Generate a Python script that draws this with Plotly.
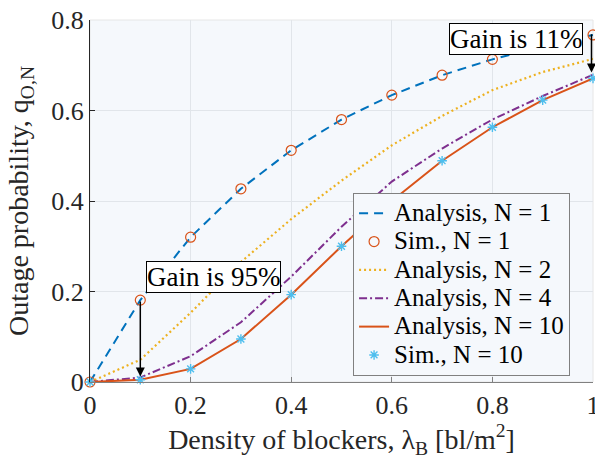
import plotly.graph_objects as go

# Density of blockers (bl/m^2)
lam = [0.0, 0.1, 0.2, 0.3, 0.4, 0.5, 0.6, 0.7, 0.8, 0.9, 1.0]

# Outage probability per number of links N
ana_n1 = [0.0, 0.181, 0.320, 0.427, 0.512, 0.580, 0.634, 0.678, 0.713, 0.742, 0.767]
sim_n1 = [0.0, 0.181, 0.320, 0.427, 0.512, 0.580, 0.634, 0.678, 0.713, 0.742, 0.767]
ana_n2 = [0.0, 0.049, 0.153, 0.265, 0.360, 0.445, 0.523, 0.588, 0.645, 0.685, 0.714]
ana_n4 = [0.0, 0.010, 0.057, 0.132, 0.233, 0.343, 0.443, 0.516, 0.580, 0.632, 0.679]
ana_n10 = [0.0, 0.005, 0.029, 0.095, 0.193, 0.300, 0.400, 0.489, 0.563, 0.623, 0.671]
sim_n10 = [0.0, 0.005, 0.029, 0.095, 0.193, 0.300, 0.400, 0.489, 0.563, 0.623, 0.671]

FONT = "Liberation Serif"
BG = "#f5f8fc"


def entry(label):
    # legend labels are set a bit larger than the row spacing font
    return f"<span style='font-size:25px'>{label}</span>"


fig = go.Figure()
fig.add_trace(go.Scatter(x=lam, y=ana_n1, mode="lines", name=entry("Analysis, N = 1"),
                         line=dict(color="#0072BD", width=2, dash="9px,6px")))
fig.add_trace(go.Scatter(x=lam, y=sim_n1, mode="markers", name=entry("Sim., N = 1"),
                         marker=dict(symbol="circle-open", size=10, color="#D95319",
                                     line=dict(width=1.2, color="#D95319")),
                         cliponaxis=False))
fig.add_trace(go.Scatter(x=lam, y=ana_n2, mode="lines", name=entry("Analysis, N = 2"),
                         line=dict(color="#EDB120", width=2.2, dash="2px,3px")))
fig.add_trace(go.Scatter(x=lam, y=ana_n4, mode="lines", name=entry("Analysis, N = 4"),
                         line=dict(color="#7E2F8E", width=2, dash="8px,3px,2px,3px")))
fig.add_trace(go.Scatter(x=lam, y=ana_n10, mode="lines", name=entry("Analysis, N = 10"),
                         line=dict(color="#D95319", width=2)))
fig.add_trace(go.Scatter(x=lam, y=sim_n10, mode="markers", name=entry("Sim., N = 10"),
                         marker=dict(symbol="asterisk-open", size=8, color="#4DBEEE",
                                     line=dict(width=1.4, color="#4DBEEE")),
                         cliponaxis=False))

# Gain annotations: text boxes and the arrows between curves
fig.add_annotation(x=0.2465, y=0.233, xref="x", yref="y", text="Gain is 95%",
                   showarrow=False, bgcolor="white", bordercolor="black",
                   borderwidth=1, borderpad=0, font=dict(family=FONT, size=27, color="black"))
fig.add_annotation(x=0.1, y=0.012, ax=0.1, ay=0.181, xref="x", yref="y",
                   axref="x", ayref="y", text="", showarrow=True, arrowhead=2,
                   arrowsize=1.2, arrowwidth=1.5, arrowcolor="black")
fig.add_annotation(x=0.847, y=0.758, xref="x", yref="y", text="Gain is 11%",
                   showarrow=False, bgcolor="white", bordercolor="black",
                   borderwidth=1, borderpad=0, font=dict(family=FONT, size=27, color="black"))
fig.add_annotation(x=0.997, y=0.684, ax=0.997, ay=0.772, xref="x", yref="y",
                   axref="x", ayref="y", text="", showarrow=True, arrowhead=2,
                   arrowsize=1.2, arrowwidth=1.5, arrowcolor="black")

# light frame around the plotting area
fig.add_shape(type="rect", xref="paper", yref="paper", x0=0, y0=0, x1=1, y1=1,
              line=dict(color="#e6e6e6", width=1), layer="below")

fig.update_layout(
    width=595, height=462,
    margin=dict(l=90, r=2, t=20, b=80),
    paper_bgcolor="white", plot_bgcolor=BG,
    font=dict(family=FONT, size=22, color="#262626"),
    showlegend=True,
    legend=dict(x=0.523, y=0.522, xanchor="left", yanchor="top",
                bgcolor=BG, bordercolor="#808080", borderwidth=1,
                font=dict(family=FONT, size=19.5, color="black"),
                tracegroupgap=0, itemwidth=30),
    xaxis=dict(range=[0, 1], tickvals=[0, 0.2, 0.4, 0.6, 0.8, 1.0],
               ticktext=["0", "0.2", "0.4", "0.6", "0.8", "1"],
               ticks="inside", ticklen=5, tickcolor="#808080",
               ticklabeloverflow="allow", automargin=False,
               showline=True, linecolor="#808080", linewidth=1.2,
               showgrid=True, gridcolor="#e1e5ea", gridwidth=1, zeroline=False,
               tickfont=dict(family=FONT, size=26, color="#262626"),
               title=dict(text="Density of blockers, λ<sub>B</sub> [bl/m<sup>2</sup>]",
                          font=dict(family=FONT, size=28, color="#262626"), standoff=8)),
    yaxis=dict(range=[0, 0.8], tickvals=[0, 0.2, 0.4, 0.6, 0.8],
               ticktext=["0", "0.2", "0.4", "0.6", "0.8"],
               ticks="inside", ticklen=5, tickcolor="#262626", automargin=False,
               showline=True, linecolor="#262626", linewidth=1.2,
               showgrid=True, gridcolor="#e1e5ea", gridwidth=1, zeroline=False,
               tickfont=dict(family=FONT, size=26, color="#262626"),
               title=dict(text="Outage probability, q<sub>O,N</sub>",
                          font=dict(family=FONT, size=28, color="#262626"), standoff=14)),
)

fig.write_html("out.html")
